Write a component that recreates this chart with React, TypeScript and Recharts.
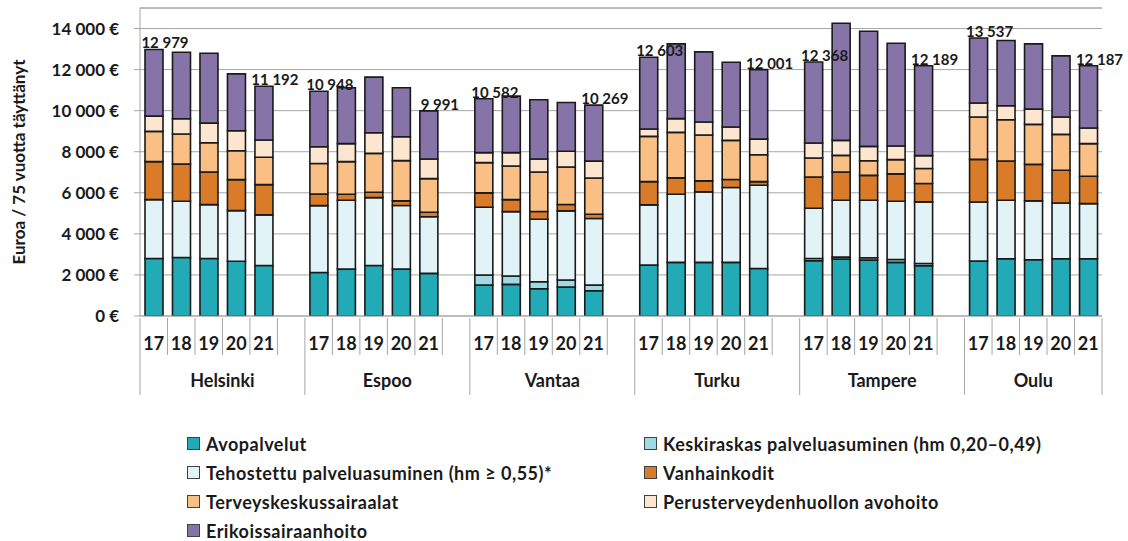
import { Bar, BarChart, CartesianGrid, LabelList, Legend, ReferenceLine, XAxis, YAxis } from "recharts";

const W = 1128;
const H = 541;
const MARGIN = { top: 8, right: 26, left: 0, bottom: 0 };
const Y_AXIS_W = 140;
const X_AXIS_H = 105;
const FONT = "Lato, 'Open Sans', sans-serif";
const GRAY = "#a6a6a6";
const INK = "#1a1a1a";

const cities = ["Helsinki", "Espoo", "Vantaa", "Turku", "Tampere", "Oulu"];
const years = ["17", "18", "19", "20", "21"];

// euroa / 75 vuotta täyttänyt, city by city, years 17..21
const avopalvelut = [
  2800, 2850, 2800, 2670, 2460, 2120, 2285, 2460, 2285, 2075, 1505, 1540, 1330, 1410, 1230,
  2480, 2610, 2610, 2610, 2315, 2690, 2770, 2720, 2610, 2445, 2675, 2785, 2740, 2785, 2785,
];
const keskiraskas = [
  0, 0, 0, 0, 0, 0, 0, 0, 0, 0, 490, 405, 340, 340, 275,
  0, 0, 0, 0, 0, 110, 95, 115, 145, 115, 0, 0, 0, 0, 0,
];
const tehostettu = [
  2870, 2740, 2625, 2460, 2465, 3255, 3355, 3305, 3095, 2755, 3300, 3140, 3045, 3370, 3240,
  2930, 3320, 3435, 3645, 4050, 2450, 2775, 2800, 2835, 3000, 2880, 2855, 2865, 2720, 2690,
];
const vanhainkodit = [
  1850, 1815, 1590, 1510, 1475, 565, 290, 260, 225, 225, 700, 585, 375, 310, 210,
  1135, 795, 535, 390, 180, 1520, 1375, 1215, 1330, 890, 2075, 1910, 1780, 1590, 1330,
];
const terveyskeskus = [
  1470, 1455, 1425, 1410, 1330, 1490, 1590, 1895, 1960, 1635, 1475, 1635, 1925, 1830, 1765,
  2205, 2220, 2235, 1910, 1310, 925, 810, 710, 695, 730, 2060, 2010, 1945, 1750, 1590,
];
const perusterveys = [
  745, 745, 955, 970, 840, 810, 875, 1005, 1165, 955, 485, 650, 630, 760, 825,
  355, 665, 630, 650, 760, 730, 730, 700, 665, 630, 680, 680, 745, 845, 760,
];
const erikois = [
  3244, 3242, 3403, 2774, 2622, 2708, 2718, 2707, 2383, 2346, 2627, 2753, 2885, 2380, 2724,
  3498, 3642, 3418, 3156, 3386, 3943, 5701, 5607, 5004, 4379, 3167, 3174, 3177, 2978, 3032,
];
const totals = [
  12979, null, null, null, 11192, 10948, null, null, null, 9991, 10582, null, null, null, 10269,
  12603, null, null, null, 12001, 12368, null, null, null, 12189, 13537, null, null, null, 12187,
];
const yTicks = [0, 2000, 4000, 6000, 8000, 10000, 12000, 14000];

const series = [
  { key: "avo", name: "Avopalvelut", color: "#22aab6", values: avopalvelut },
  { key: "kesk", name: "Keskiraskas palveluasuminen (hm 0,20–0,49)", color: "#9fd9e3", values: keskiraskas },
  { key: "teho", name: "Tehostettu palveluasuminen (hm ≥ 0,55)*", color: "#e1f3f7", values: tehostettu },
  { key: "vanh", name: "Vanhainkodit", color: "#d97b29", values: vanhainkodit },
  { key: "terv", name: "Terveyskeskussairaalat", color: "#f9bf85", values: terveyskeskus },
  { key: "perus", name: "Perusterveydenhuollon avohoito", color: "#fde6d0", values: perusterveys },
  { key: "erik", name: "Erikoissairaanhoito", color: "#8674a9", values: erikois },
];

type Row = { [k: string]: any };
const rows: Row[] = [];
cities.forEach((city, ci) => {
  years.forEach((year, yi) => {
    const i = ci * years.length + yi;
    const row: Row = { slot: `${city}-${year}`, year, city, ci, pos: yi, total: totals[i] };
    series.forEach((s) => (row[s.key] = s.values[i]));
    rows.push(row);
  });
  if (ci < cities.length - 1) rows.push({ slot: `${city}-gap`, year: "", city, ci, pos: 5 });
});

const PLOT_W = W - MARGIN.left - Y_AXIS_W - MARGIN.right;
const SLOT = PLOT_W / rows.length;
const PLOT_H = H - MARGIN.top - X_AXIS_H - 120;

const fmt = (v: number) => String(v).replace(/\B(?=(\d{3})+(?!\d))/g, " ");

const YearTick = (props: any) => {
  const { x, y, index } = props;
  const row = rows[index];
  if (!row) return null;
  const half = SLOT / 2;
  const isLast = index === rows.length - 1;
  return (
    <g>
      <line x1={x - half} x2={x - half} y1={y} y2={y + (row.pos === 0 ? 77 : 37)} stroke={GRAY} />
      {isLast && <line x1={x + half} x2={x + half} y1={y} y2={y + 77} stroke={GRAY} />}
      <text x={x} y={y + 32} textAnchor="middle" fontFamily={FONT} fontWeight={700} fontSize={18} fill={INK}>
        {row.year}
      </text>
      {row.pos === 2 && (
        <text
          x={x + (row.ci < cities.length - 1 ? half : 0)}
          y={y + 69}
          textAnchor="middle"
          fontFamily={FONT}
          fontWeight={700}
          fontSize={18}
          fill={INK}
        >
          {row.city}
        </text>
      )}
    </g>
  );
};

const TotalLabel = (props: any) => {
  const { x, y, width, value } = props;
  if (value == null) return null;
  return (
    <text x={x + width / 2 + 11} y={y - 1} textAnchor="middle" fontFamily={FONT} fontWeight={700} fontSize={15} fill={INK}>
      {fmt(value)}
    </text>
  );
};

const YTitle = () => {
  const cx = 18;
  const cy = MARGIN.top + PLOT_H / 2;
  return (
    <text
      x={cx}
      y={cy}
      transform={`rotate(-90, ${cx}, ${cy})`}
      textAnchor="middle"
      dominantBaseline="central"
      fontFamily={FONT}
      fontWeight={700}
      fontSize={17}
      fill={INK}
    >
      Euroa / 75 vuotta täyttänyt
    </text>
  );
};

// legend in series order, two columns row by row
const LegendBox = () => (
  <div
    style={{
      height: 120,
      boxSizing: "border-box",
      paddingTop: 8,
      paddingLeft: 187,
      display: "grid",
      gridTemplateColumns: "457px auto",
      gridAutoRows: "29px",
      fontFamily: FONT,
      fontWeight: 700,
      fontSize: 18,
      letterSpacing: 0.5,
      color: INK,
    }}
  >
    {series.map((s) => (
      <div key={s.key} style={{ display: "flex", alignItems: "center", whiteSpace: "nowrap" }}>
        <span
          style={{
            display: "inline-block",
            width: 11,
            height: 11,
            background: s.color,
            border: "1px solid #404040",
            marginRight: 6,
          }}
        />
        {s.name}
      </div>
    ))}
  </div>
);

export default function App() {
  return (
    <div style={{ position: "absolute", left: 0, top: 0, width: W, height: H, background: "#fff", fontFamily: FONT }}>
      <BarChart width={W} height={H} data={rows} margin={MARGIN} barSize={18}>
        <CartesianGrid vertical={false} stroke={GRAY} />
        <XAxis
          dataKey="slot"
          height={X_AXIS_H}
          interval={0}
          tickSize={0}
          tickLine={false}
          axisLine={{ stroke: GRAY }}
          tick={<YearTick />}
        />
        <YAxis
          width={Y_AXIS_W}
          domain={[0, 15000]}
          ticks={yTicks}
          allowDataOverflow
          tickFormatter={(v: number) => `${fmt(v)} €`}
          tickSize={6}
          tickMargin={15}
          tickLine={{ stroke: GRAY }}
          axisLine={{ stroke: GRAY }}
          tick={{ fontFamily: FONT, fontWeight: 700, fontSize: 17, fill: INK }}
          label={{ content: <YTitle /> }}
        />
        <YAxis yAxisId="r" orientation="right" width={0} tick={false} axisLine={{ stroke: GRAY }} />
        <ReferenceLine y={15000} stroke={GRAY} />
        <Legend verticalAlign="bottom" content={<LegendBox />} wrapperStyle={{ left: 0, width: W }} />
        {series.map((s) => (
          <Bar
            key={s.key}
            dataKey={s.key}
            name={s.name}
            stackId="a"
            fill={s.color}
            stroke={INK}
            strokeWidth={1.6}
            isAnimationActive={false}
          >
            {s.key === "erik" && <LabelList dataKey="total" content={<TotalLabel />} />}
          </Bar>
        ))}
      </BarChart>
    </div>
  );
}
